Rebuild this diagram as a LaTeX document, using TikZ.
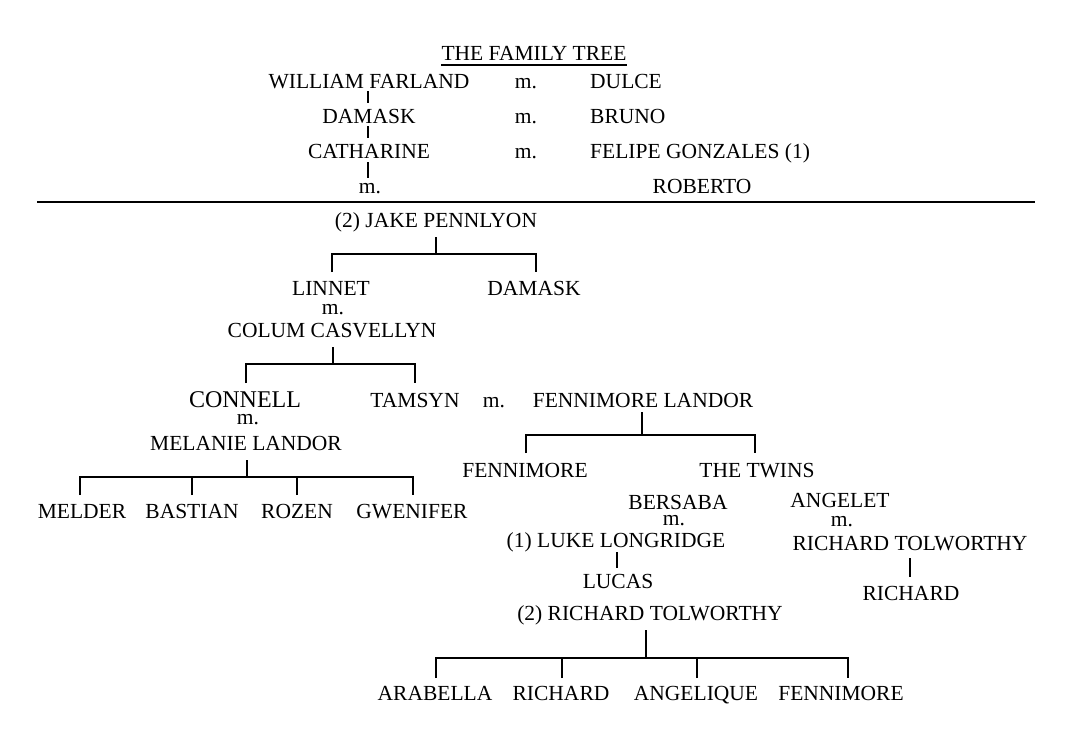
\documentclass[tikz,border=0pt]{standalone}
\usepackage{fontspec}
\setmainfont{Liberation Serif}
\begin{document}
\begin{tikzpicture}[x=1pt,y=-1pt,
  nm/.style={anchor=base,inner sep=0pt,text height=14pt,text depth=1pt,font=\fontsize{21.5}{24}\selectfont},
  nmw/.style={nm,anchor=base west},
  mar/.style={nm,text height=9pt,text depth=0pt},
  big/.style={nm,text height=16pt,font=\fontsize{24}{28}\selectfont},
  ln/.style={line width=1.4pt}]
\fill[white] (0,0) rectangle (1073,732);
\useasboundingbox (0,0) rectangle (1073,732);
% title
\node[nm] (title) at (534,60) {THE FAMILY TREE};
\draw[ln] ([yshift=-5pt]title.base west) -- ([yshift=-5pt]title.base east);
% top rows
\node[nm] (wf) at (369,88) {WILLIAM FARLAND};
\node[mar] (m1) at (526,88) {m.};
\node[nmw] (dulce) at (590,88) {DULCE};
\node[nm] (dam1) at (369,123) {DAMASK};
\node[mar] (m2) at (526,123) {m.};
\node[nmw] (bruno) at (590,123) {BRUNO};
\node[nm] (cath) at (369,158) {CATHARINE};
\node[mar] (m3) at (526,158) {m.};
\node[nmw] (felipe) at (590,158) {FELIPE GONZALES (1)};
\node[mar] (m4) at (370,193) {m.};
\node[nm] (roberto) at (702,193) {ROBERTO};
\coordinate (a1) at (368,91); \coordinate (a2) at (368,103);
\coordinate (b1) at (368,126); \coordinate (b2) at (368,138);
\coordinate (c1) at (368,162); \coordinate (c2) at (368,178);
\draw[ln] (a1) -- (a2);
\draw[ln] (b1) -- (b2);
\draw[ln] (c1) -- (c2);
\coordinate (ruleL) at (37,202); \coordinate (ruleR) at (1035,202);
\draw[line width=1.2pt] (ruleL) -- (ruleR);
% Jake
\node[nm] (jake) at (436,227) {(2) JAKE PENNLYON};
\coordinate (jS) at (436,237); \coordinate (jB) at (436,254);
\coordinate (linT) at (332,272); \coordinate (damT) at (536,272);
\draw[ln] (jS) -- (jB);
\draw[ln] (linT) |- (jB) -| (damT);
\node[nm] (linnet) at (331,295) {LINNET};
\node[nm] (dam2) at (534,295) {DAMASK};
\node[mar] (m5) at (333,314) {m.};
\node[nm] (colum) at (332,337) {COLUM CASVELLYN};
% Colum children
\coordinate (cS) at (333,347); \coordinate (cB) at (333,364);
\coordinate (conT) at (246,383); \coordinate (tamT) at (415,383);
\draw[ln] (cS) -- (cB);
\draw[ln] (conT) |- (cB) -| (tamT);
\node[big] (connell) at (245,407) {CONNELL};
\node[nm] (tamsyn) at (415,407) {TAMSYN};
\node[mar] (m6) at (494,407) {m.};
\node[nm] (fland) at (643,407) {FENNIMORE LANDOR};
\node[mar] (m7) at (248,424) {m.};
\node[nm] (melanie) at (246,450) {MELANIE LANDOR};
% Connell children
\coordinate (mS) at (247,460); \coordinate (mB) at (247,477);
\coordinate (k1) at (80,495); \coordinate (k2) at (192,495);
\coordinate (k3) at (297,495); \coordinate (k4) at (413,495);
\draw[ln] (mS) -- (mB);
\draw[ln] (k1) |- (mB) -| (k4);
\draw[ln] (k2) -- (k2 |- mB);
\draw[ln] (k3) -- (k3 |- mB);
\node[nm] (melder) at (82,518) {MELDER};
\node[nm] (bastian) at (192,518) {BASTIAN};
\node[nm] (rozen) at (297,518) {ROZEN};
\node[nm] (gwenifer) at (412,518) {GWENIFER};
% Tamsyn children
\coordinate (fS) at (642,412); \coordinate (fB) at (642,435);
\coordinate (fenT) at (526,453); \coordinate (twT) at (755,453);
\draw[ln] (fS) -- (fB);
\draw[ln] (fenT) |- (fB) -| (twT);
\node[nm] (fen1) at (525,477) {FENNIMORE};
\node[nm] (twins) at (757,477) {THE TWINS};
\node[nm] (bersaba) at (678,509) {BERSABA};
\node[mar] (m8) at (674,525) {m.};
\node[nm] (luke) at (616,547) {(1) LUKE LONGRIDGE};
\coordinate (lS) at (617,552); \coordinate (lE) at (617,568);
\draw[ln] (lS) -- (lE);
\node[nm] (lucas) at (618,588) {LUCAS};
\node[nm] (angelet) at (840,507) {ANGELET};
\node[mar] (m9) at (842,526) {m.};
\node[nm] (rt1) at (910,550) {RICHARD TOLWORTHY};
\coordinate (rS) at (910,558); \coordinate (rE) at (910,577);
\draw[ln] (rS) -- (rE);
\node[nm] (rich1) at (911,600) {RICHARD};
\node[nm] (rt2) at (650,620) {(2) RICHARD TOLWORTHY};
\coordinate (tS) at (646,630); \coordinate (tB) at (646,658);
\coordinate (q1) at (436,678); \coordinate (q2) at (562,678);
\coordinate (q3) at (697,678); \coordinate (q4) at (848,678);
\draw[ln] (tS) -- (tB);
\draw[ln] (q1) |- (tB) -| (q4);
\draw[ln] (q2) -- (q2 |- tB);
\draw[ln] (q3) -- (q3 |- tB);
\node[nm] (arabella) at (435,700) {ARABELLA};
\node[nm] (rich2) at (561,700) {RICHARD};
\node[nm] (angelique) at (696,700) {ANGELIQUE};
\node[nm] (fen2) at (841,700) {FENNIMORE};
\end{tikzpicture}
\end{document}
